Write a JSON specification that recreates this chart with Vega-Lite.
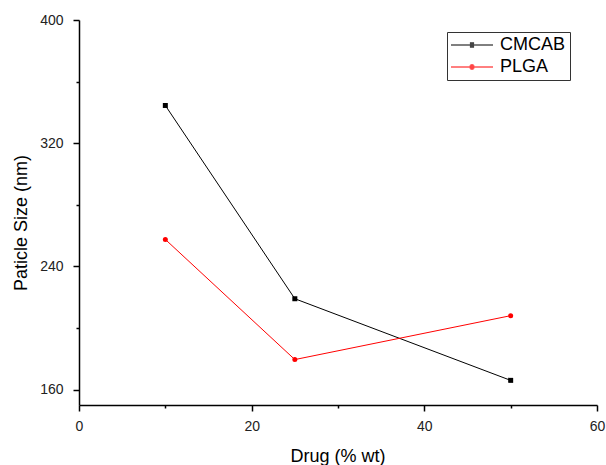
{
  "$schema": "https://vega.github.io/schema/vega-lite/v6.json",
  "width": 518,
  "height": 385,
  "autosize": {"type": "none"},
  "padding": {"left": 79, "top": 20, "right": 9, "bottom": 60},
  "background": "white",
  "config": {
    "view": {"stroke": null},
    "font": "Liberation Sans",
    "axis": {
      "grid": false,
      "domainColor": "black",
      "domainWidth": 1.5,
      "tickColor": "black",
      "tickWidth": 1.5,
      "labelColor": "#222",
      "labelFont": "Liberation Sans",
      "labelFontSize": 14,
      "titleFont": "Liberation Sans",
      "titleFontSize": 18,
      "titleFontWeight": "normal",
      "titleColor": "black"
    }
  },
  "data": {
    "values": [
      {"drug": 10, "size": 344.5, "series": "CMCAB"},
      {"drug": 25, "size": 219, "series": "CMCAB"},
      {"drug": 50, "size": 166, "series": "CMCAB"},
      {"drug": 10, "size": 257.5, "series": "PLGA"},
      {"drug": 25, "size": 179.5, "series": "PLGA"},
      {"drug": 50, "size": 208, "series": "PLGA"}
    ]
  },
  "encoding": {
    "x": {
      "field": "drug",
      "type": "quantitative",
      "scale": {"domain": [0, 60], "nice": false, "zero": false},
      "axis": {
        "title": "Drug (% wt)",
        "values": [0, 10, 20, 30, 40, 50, 60],
        "labelExpr": "datum.value % 20 === 0 ? datum.label : ''",
        "tickSize": {"condition": {"test": "datum.value % 20 === 0", "value": 6}, "value": 3},
        "labelPadding": 8,
        "labelFlush": false,
        "titleX": 258.5,
        "titleY": 56.5,
        "titleBaseline": "alphabetic",
        "titleAlign": "center"
      }
    },
    "y": {
      "field": "size",
      "type": "quantitative",
      "scale": {"domain": [150, 400], "nice": false, "zero": false},
      "axis": {
        "title": "Paticle Size (nm)",
        "values": [160, 200, 240, 280, 320, 360, 400],
        "labelExpr": "(datum.value - 160) % 80 === 0 ? datum.label : ''",
        "tickSize": {"condition": {"test": "(datum.value - 160) % 80 === 0", "value": 6}, "value": 3},
        "labelPadding": 10,
        "labelFlush": false,
        "titleX": -53,
        "titleY": 202.5,
        "titleAngle": -90,
        "titleBaseline": "alphabetic",
        "titleAlign": "center"
      }
    }
  },
  "layer": [
    {
      "mark": {"type": "line", "strokeWidth": 1},
      "encoding": {
        "color": {
          "field": "series",
          "type": "nominal",
          "scale": {"domain": ["CMCAB", "PLGA"], "range": ["black", "#ff0000"]},
          "legend": null
        }
      }
    },
    {
      "mark": {"type": "point", "filled": true, "opacity": 1},
      "encoding": {
        "color": {
          "field": "series",
          "type": "nominal",
          "scale": {"domain": ["CMCAB", "PLGA"], "range": ["black", "#ff0000"]},
          "legend": null
        },
        "shape": {
          "field": "series",
          "type": "nominal",
          "scale": {"domain": ["CMCAB", "PLGA"], "range": ["square", "circle"]},
          "legend": null
        },
        "size": {"value": 25}
      }
    },
    {
      "mark": {"type": "point", "filled": false, "opacity": 0, "strokeWidth": 1},
      "encoding": {
        "color": {
          "field": "series",
          "type": "nominal",
          "scale": {"domain": ["CMCAB", "PLGA"], "range": ["black", "#ff0000"]},
          "legend": {
            "title": null,
            "orient": "none",
            "legendX": 368,
            "legendY": 12,
            "padding": 4,
            "strokeColor": "#333",
            "fillColor": "white",
            "symbolSize": 256,
            "symbolStrokeWidth": 1,
            "symbolOpacity": 1,
            "symbolOffset": 12,
            "labelFont": "Liberation Sans",
            "labelFontSize": 18,
            "labelColor": "black",
            "labelOffset": 19,
            "rowPadding": 4
          }
        },
        "shape": {
          "field": "series",
          "type": "nominal",
          "scale": {
            "domain": ["CMCAB", "PLGA"],
            "range": [
              "M-2.625,0H2.625M-0.26,-0.26H0.26M-0.26,-0.13H0.26M-0.26,0.13H0.26M-0.26,0.26H0.26",
              "M-2.625,0H2.625M-0.195,-0.26H0.195M-0.3,-0.13H0.3M-0.3,0.13H0.3M-0.195,0.26H0.195"
            ]
          },
          "legend": {
            "title": null,
            "orient": "none",
            "legendX": 368,
            "legendY": 12,
            "padding": 4,
            "strokeColor": "#333",
            "fillColor": "white",
            "symbolSize": 256,
            "symbolStrokeWidth": 1,
            "symbolOpacity": 1,
            "symbolOffset": 12,
            "labelFont": "Liberation Sans",
            "labelFontSize": 18,
            "labelColor": "black",
            "labelOffset": 19,
            "rowPadding": 4
          }
        },
        "size": {"value": 256}
      }
    }
  ],
  "resolve": {"scale": {"color": "independent", "shape": "independent"}}
}
